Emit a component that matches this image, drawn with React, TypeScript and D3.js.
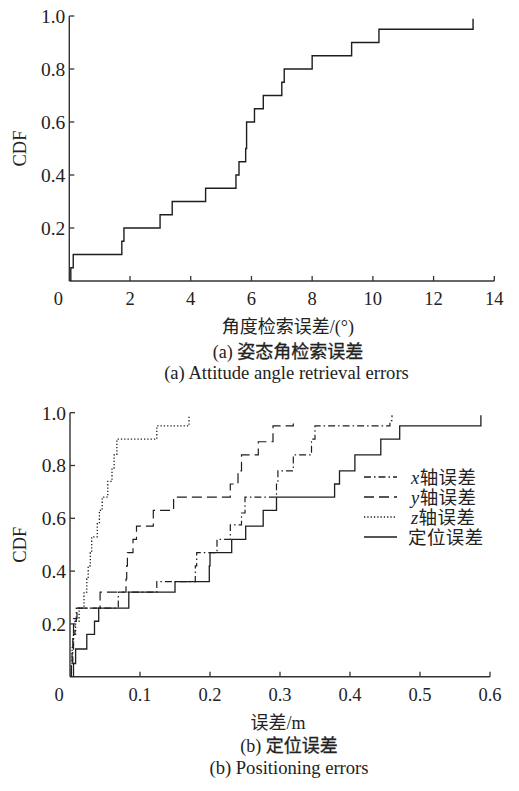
import React from "react";
import * as d3 from "d3";

// ---------- Data ----------
// (a) attitude angle retrieval error CDF
const attitudeErr = [0.05, 0.13, 1.73, 1.8, 2.99, 3.39, 4.49, 5.49, 5.59, 5.81, 5.84, 6.1, 6.39, 7.0, 7.08, 8.0, 9.3, 10.2, 13.3];
const attitudeCdf = [0.05, 0.1, 0.15, 0.2, 0.25, 0.3, 0.35, 0.4, 0.45, 0.5, 0.6, 0.65, 0.7, 0.75, 0.8, 0.85, 0.9, 0.95, 0.99];

// (b) positioning errors CDF
const xAxisErr = [0.002, 0.004, 0.005, 0.007, 0.009, 0.069, 0.124, 0.179, 0.181, 0.21, 0.229, 0.245, 0.25, 0.295, 0.297, 0.319, 0.345, 0.35, 0.457, 0.46];
const xAxisCdf = [0.05, 0.1, 0.16, 0.21, 0.26, 0.32, 0.36, 0.42, 0.47, 0.52, 0.575, 0.62, 0.68, 0.73, 0.78, 0.84, 0.9, 0.95, 0.97, 0.99];

const yAxisErr = [0.002, 0.003, 0.004, 0.005, 0.01, 0.043, 0.08, 0.081, 0.082, 0.09, 0.095, 0.119, 0.148, 0.229, 0.24, 0.245, 0.269, 0.29, 0.319];
const yAxisCdf = [0.05, 0.1, 0.16, 0.22, 0.26, 0.32, 0.37, 0.42, 0.47, 0.52, 0.57, 0.63, 0.68, 0.73, 0.78, 0.84, 0.89, 0.95, 0.97];

const zAxisErr = [0.002, 0.003, 0.005, 0.008, 0.013, 0.02, 0.024, 0.026, 0.029, 0.031, 0.039, 0.042, 0.046, 0.054, 0.06, 0.063, 0.067, 0.124, 0.17];
const zAxisCdf = [0.05, 0.11, 0.16, 0.21, 0.26, 0.32, 0.37, 0.42, 0.47, 0.53, 0.58, 0.63, 0.68, 0.74, 0.79, 0.84, 0.9, 0.95, 0.99];

const posErr = [0.005, 0.008, 0.024, 0.035, 0.041, 0.084, 0.15, 0.199, 0.2, 0.231, 0.251, 0.276, 0.295, 0.378, 0.385, 0.407, 0.444, 0.471, 0.587];
const posCdf = [0.05, 0.105, 0.16, 0.21, 0.26, 0.32, 0.36, 0.42, 0.47, 0.52, 0.57, 0.63, 0.68, 0.73, 0.78, 0.84, 0.9, 0.95, 0.99];

const ticksA = [0, 2, 4, 6, 8, 10, 12, 14];
const ticksB = [0, 0.1, 0.2, 0.3, 0.4, 0.5, 0.6];
const yTicks = [0.2, 0.4, 0.6, 0.8, 1.0];

const seriesNames = ["x轴误差", "y轴误差", "z轴误差", "定位误差"];

const SERIF = "'Liberation Serif', 'Times New Roman', 'Noto Sans CJK SC', serif";
const INK = "#1e1e1e";
const AXIS = "#333";

type Series = { xs: number[]; ys: number[]; dash: string; width: number };

function stepPath(xs: number[], ys: number[], x: d3.ScaleLinear<number, number>, y: d3.ScaleLinear<number, number>) {
  const pts: [number, number][] = [[xs[0], 0], ...xs.map((v, i) => [v, ys[i]] as [number, number])];
  return d3.line<[number, number]>().x((d) => x(d[0])).y((d) => y(d[1])).curve(d3.curveStepAfter)(pts) || "";
}

function Axes({ x, y, ticks, fmt, xTitle, titleShift }: { x: d3.ScaleLinear<number, number>; y: d3.ScaleLinear<number, number>; ticks: number[]; fmt: (v: number) => string; xTitle: string; titleShift: number }) {
  const x0 = x(0);
  const y0 = y(0);
  const xEnd = x(ticks[ticks.length - 1]);
  return (
    <g>
      <line x1={x0} x2={x0} y1={y0} y2={y(1)} stroke={AXIS} strokeWidth={1.4} />
      <line x1={x0} x2={xEnd} y1={y0} y2={y0} stroke={AXIS} strokeWidth={1.4} />
      {yTicks.map((t) => (
        <g key={"y" + t}>
          <line x1={x0} x2={x0 + 5} y1={y(t)} y2={y(t)} stroke={AXIS} strokeWidth={1.3} />
          <text x={x0 - 4} y={y(t)} dy="0.35em" textAnchor="end" fontFamily={SERIF} fontSize={19.5} fill="#222">
            {t.toFixed(1)}
          </text>
        </g>
      ))}
      {ticks.map((t) => (
        <g key={"x" + t}>
          {t !== 0 && <line x1={x(t)} x2={x(t)} y1={y0} y2={y0 - 5} stroke={AXIS} strokeWidth={1.3} />}
          <text x={x(t) - (t === 0 ? 11 : 0)} y={y0 + 24} textAnchor="middle" fontFamily={SERIF} fontSize={18.5} fill="#222">
            {fmt(t)}
          </text>
        </g>
      ))}
      <text transform={`translate(${x0 - 50},${(y0 + y(1)) / 2}) rotate(-90)`} dy="0.35em" textAnchor="middle" fontFamily={SERIF} fontSize={18.5} fill="#222">
        CDF
      </text>
      <text x={x(ticks[ticks.length - 1] / 2) + titleShift} y={y0 + 52} textAnchor="middle" fontFamily={SERIF} fontSize={18} fill="#222">
        {xTitle}
      </text>
    </g>
  );
}

function Caption({ x, y, label, zh }: { x: number; y: number; label: string; zh: string }) {
  return (
    <text x={x} y={y} textAnchor="middle" fontFamily={SERIF} fontSize={18} fill="#222">
      <tspan>{label} </tspan>
      <tspan stroke="#222" strokeWidth={0.3}>{zh}</tspan>
    </text>
  );
}

export default function App() {
  const xA = d3.scaleLinear().domain([0, 14]).range([69.3, 494.3]);
  const yA = d3.scaleLinear().domain([0, 1]).range([281, 16]);
  const xB = d3.scaleLinear().domain([0, 0.6]).range([70, 490]);
  const yB = d3.scaleLinear().domain([0, 1]).range([676.7, 412.7]);

  const seriesB: Series[] = [
    { xs: posErr, ys: posCdf, dash: "none", width: 1.3 },
    { xs: xAxisErr, ys: xAxisCdf, dash: "7 3 1.5 3", width: 1.2 },
    { xs: yAxisErr, ys: yAxisCdf, dash: "10 5", width: 1.2 },
    { xs: zAxisErr, ys: zAxisCdf, dash: "1.3 2", width: 1.3 },
  ];
  const legendDash = ["7 3 1.5 3", "10 5", "1.3 2", "none"];

  return (
    <svg width={519} height={791} style={{ position: "absolute", left: 0, top: 0, background: "#fff" }}>
      <rect width={519} height={791} fill="#fff" />
      {/* Panel (a) */}
      <Axes x={xA} y={yA} ticks={ticksA} fmt={(v) => String(v)} xTitle="角度检索误差/(°)" titleShift={6} />
      <path d={stepPath(attitudeErr, attitudeCdf, xA, yA)} fill="none" stroke={INK} strokeWidth={1.4} />
      <Caption x={288} y={358} label="(a)" zh="姿态角检索误差" />
      <text x={286.5} y={379} textAnchor="middle" fontFamily={SERIF} fontSize={18.6} fill="#222">
        (a) Attitude angle retrieval errors
      </text>

      {/* Panel (b) */}
      <Axes x={xB} y={yB} ticks={ticksB} fmt={(v) => (v === 0 ? "0" : v.toFixed(1))} xTitle="误差/m" titleShift={-2} />
      {seriesB.map((s, i) => (
        <path key={i} d={stepPath(s.xs, s.ys, xB, yB)} fill="none" stroke={INK} strokeWidth={s.width} strokeDasharray={s.dash} />
      ))}
      {seriesNames.map((name, i) => {
        const cy = 477 + i * 20;
        const latin = i < 3 ? name[0] : "";
        const rest = i < 3 ? name.slice(1) : name;
        return (
          <g key={name}>
            <line x1={364} x2={397} y1={cy} y2={cy} stroke={INK} strokeWidth={1.3} strokeDasharray={legendDash[i]} />
            <text x={i < 3 ? 411 : 408} y={cy + 6.5} fontFamily={SERIF} fontSize={18.5} letterSpacing={0.4} fill="#222">
              {latin && <tspan fontStyle="italic">{latin}</tspan>}
              {rest}
            </text>
          </g>
        );
      })}
      <Caption x={289} y={752} label="(b)" zh="定位误差" />
      <text x={289} y={774} textAnchor="middle" fontFamily={SERIF} fontSize={18.6} fill="#222">
        (b) Positioning errors
      </text>
    </svg>
  );
}
